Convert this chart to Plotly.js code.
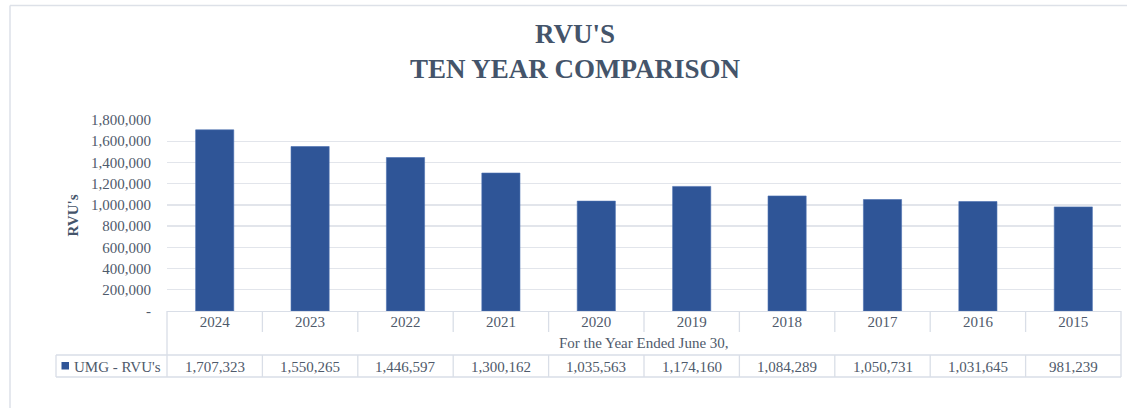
<!DOCTYPE html>
<html>
<head>
<meta charset="utf-8">
<script src="https://cdn.plot.ly/plotly-3.0.1.min.js"></script>
<style>
  html, body { margin: 0; padding: 0; background: #ffffff; }
  #chart { width: 1127px; height: 408px; }
</style>
</head>
<body>
<div id="chart"></div>
<script>
// ---- Data ----
var years = ["2024", "2023", "2022", "2021", "2020", "2019", "2018", "2017", "2016", "2015"];
var rvus = [1707323, 1550265, 1446597, 1300162, 1035563, 1174160, 1084289, 1050731, 1031645, 981239];
var seriesName = "UMG - RVU's";
var yTickVals = [0, 200000, 400000, 600000, 800000, 1000000, 1200000, 1400000, 1600000, 1800000];
var yTickText = ["-", "200,000", "400,000", "600,000", "800,000", "1,000,000", "1,200,000", "1,400,000", "1,600,000", "1,800,000"];
var titleText = "RVU'S<br>TEN YEAR COMPARISON";
var yTitle = "RVU's";
var xTitle = "For the Year Ended June 30,";

// ---- Layout geometry (pixels) ----
var W = 1127, Hh = 408;
var mL = 167, mR = 6, mT = 120, mB = 97;
var plotW = W - mL - mR, plotH = Hh - mT - mB;
var plotBottom = Hh - mB;
function px(x) { return (x - mL) / plotW; }
function py(y) { return (plotBottom - y) / plotH; }

var fontFamily = "'Liberation Serif', 'Times New Roman', serif";
var textColor = "#4F5A6B";
var titleColor = "#44546A";
var lineColor = "#D9DEE7";
var barColor = "#2F5597";

var n = years.length;
var shapes = [];
function line(x0, y0, x1, y1, color, w) {
  shapes.push({type: "line", xref: "paper", yref: "paper",
    x0: x0, y0: y0, x1: x1, y1: y1,
    line: {color: color || lineColor, width: w || 1.3}});
}

// chart outer border (top and left visible)
line(px(10), py(5.5), px(10), py(410), "#DDE1E8", 1.5);
line(px(10), py(5.5), px(1130), py(5.5), "#DDE1E8", 1.5);

// data table lines
var row1Bottom = py(332), row3Top = py(355), row3Bottom = py(377);
line(0, 0, 0, row3Bottom);
line(1, 0, 1, row3Bottom);
line(px(56), row3Top, 1, row3Top);
line(px(56), row3Bottom, 1, row3Bottom);
line(px(56), row3Top, px(56), row3Bottom);
for (var i = 1; i < n; i++) {
  var xb = i / n;
  line(xb, 0, xb, row1Bottom);
  line(xb, row3Top, xb, row3Bottom);
}
// legend key square
shapes.push({type: "rect", xref: "paper", yref: "paper",
  x0: px(61.5), x1: px(69), y0: py(362), y1: py(369.5),
  fillcolor: barColor, line: {width: 0}});

var annotations = [];
// x axis caption row
annotations.push({xref: "paper", yref: "paper", x: 0.5, y: py(343),
  text: xTitle, showarrow: false, xanchor: "center", yanchor: "middle",
  font: {family: fontFamily, size: 15, color: textColor}});
// values row (category index positions on the x axis)
for (var j = 0; j < n; j++) {
  annotations.push({xref: "x", yref: "paper", x: j, y: py(366.5),
    text: rvus[j].toLocaleString("en-US"), showarrow: false,
    xanchor: "center", yanchor: "middle",
    font: {family: fontFamily, size: 15, color: textColor}});
}
// legend label
annotations.push({xref: "paper", yref: "paper", x: px(72), y: py(366.5),
  text: seriesName, showarrow: false, xanchor: "left", yanchor: "middle",
  font: {family: fontFamily, size: 15, color: textColor}});

var trace = {
  type: "bar",
  x: years,
  y: rvus,
  name: seriesName,
  marker: {color: barColor, line: {color: "#4A6FB0", width: 0.6}},
  hoverinfo: "x+y"
};

var layout = {
  width: W, height: Hh,
  margin: {l: mL, r: mR, t: mT, b: mB, pad: 0},
  paper_bgcolor: "#ffffff",
  plot_bgcolor: "#ffffff",
  showlegend: false,
  bargap: 0.6,
  title: {
    text: titleText,
    font: {family: fontFamily, size: 27, color: titleColor, weight: "bold"},
    xref: "container", x: 575 / W, xanchor: "center",
    yref: "container", y: 1 - 43 / Hh, yanchor: "middle"
  },
  xaxis: {
    type: "category",
    range: [-0.5, n - 0.5],
    showgrid: false,
    showline: true, linecolor: lineColor, linewidth: 1.3,
    ticks: "",
    ticklabelstandoff: -3,
    tickfont: {family: fontFamily, size: 15, color: textColor},
    fixedrange: true
  },
  yaxis: {
    range: [0, 1800000],
    tickvals: yTickVals,
    ticktext: yTickText,
    showgrid: true, gridcolor: "#E2E5EB", gridwidth: 1.3,
    zeroline: false,
    showline: false,
    ticks: "",
    ticklabelstandoff: 15,
    tickfont: {family: fontFamily, size: 15, color: textColor},
    title: {text: yTitle, standoff: 8,
      font: {family: fontFamily, size: 15, color: titleColor, weight: "bold"}},
    automargin: false,
    fixedrange: true
  },
  shapes: shapes,
  annotations: annotations
};

Plotly.newPlot("chart", [trace], layout, {displayModeBar: false, staticPlot: true});
</script>
</body>
</html>
